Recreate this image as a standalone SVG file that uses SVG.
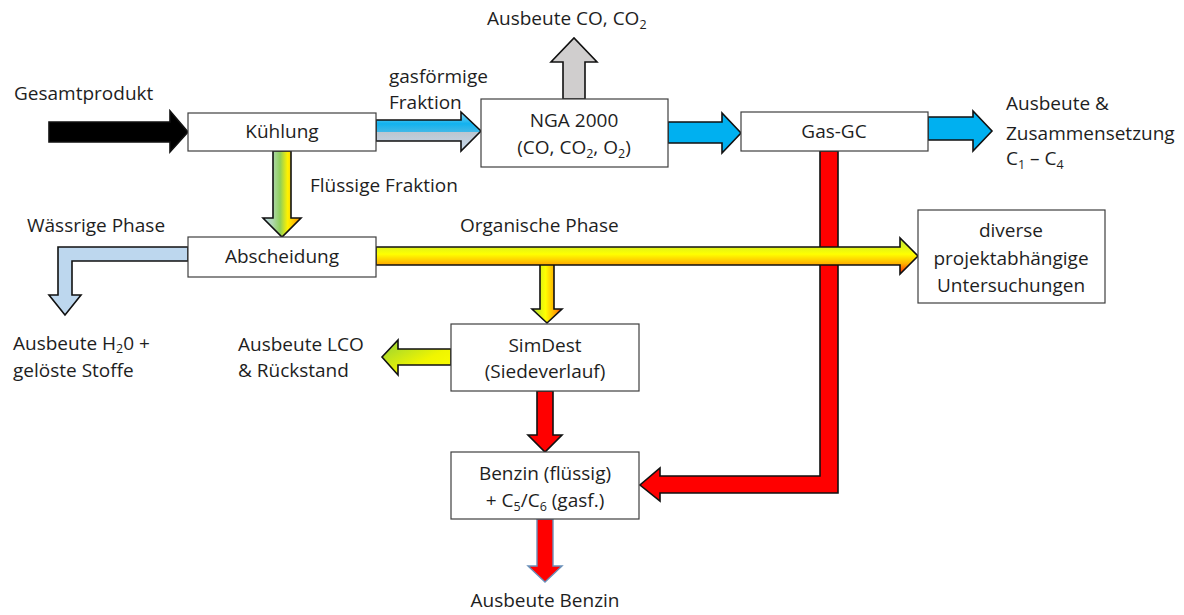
<svg xmlns="http://www.w3.org/2000/svg" width="1184" height="615" viewBox="0 0 1184 615">
  <defs>
    <style>
      text { font-family: "Open Sans", "Noto Sans", "Liberation Sans", sans-serif; font-size: 19px; fill: #1e1e1e; }
      .c { text-anchor: middle; }
      .box { fill: #ffffff; stroke: #3f3f3f; stroke-width: 1.2; }
      .arr { stroke: #111111; stroke-width: 1.6; stroke-linejoin: miter; }
      .sub { font-size: 12.5px; }
    </style>
    <!-- gas fraction: blue over grey -->
    <linearGradient id="gGas" x1="0" y1="0" x2="0" y2="1">
      <stop offset="0" stop-color="#8ad6f5"/>
      <stop offset="0.3" stop-color="#12b2ef"/>
      <stop offset="0.5" stop-color="#3fb8e8"/>
      <stop offset="0.52" stop-color="#bcc6d0"/>
      <stop offset="1" stop-color="#c6d9ec"/>
    </linearGradient>
    <!-- liquid fraction: blue / green / yellow / orange across -->
    <linearGradient id="gLiq" x1="0" y1="0" x2="1" y2="0">
      <stop offset="0" stop-color="#bcd4ec"/>
      <stop offset="0.25" stop-color="#b0d8b0"/>
      <stop offset="0.45" stop-color="#8fcf5a"/>
      <stop offset="0.65" stop-color="#fff200"/>
      <stop offset="1" stop-color="#ff8a00"/>
    </linearGradient>
    <!-- organic phase: green-yellow top to red bottom -->
    <linearGradient id="gOrgH" x1="0" y1="0" x2="0" y2="1">
      <stop offset="0" stop-color="#b8e43a"/>
      <stop offset="0.45" stop-color="#ffff00"/>
      <stop offset="0.72" stop-color="#ffb000"/>
      <stop offset="1" stop-color="#ff1a00"/>
    </linearGradient>
    <linearGradient id="gOrgV" x1="0" y1="0" x2="1" y2="0">
      <stop offset="0" stop-color="#a8dc3a"/>
      <stop offset="0.45" stop-color="#ffff00"/>
      <stop offset="0.8" stop-color="#ffa000"/>
      <stop offset="1" stop-color="#ff2000"/>
    </linearGradient>
    <linearGradient id="gLco" x1="0" y1="0" x2="1" y2="1">
      <stop offset="0" stop-color="#8fd03a"/>
      <stop offset="0.6" stop-color="#f0f500"/>
      <stop offset="1" stop-color="#ffff00"/>
    </linearGradient>
  </defs>

  <!-- connectors -->
  <g id="connectors">
    <!-- Gas-GC to Benzin (drawn first, organic phase crosses over it) -->
    <path class="arr" fill="#ff0000" d="M820,151 L838,151 L838,493 L660,493 L660,501 L640,485 L660,468 L660,476 L820,476 Z"/>
    <!-- Gesamtprodukt into Kühlung -->
    <path class="arr" fill="#000000" d="M49,122 L170,122 L170,111 L188,132 L170,152 L170,142 L49,142 Z"/>
    <!-- gaseous fraction -->
    <path class="arr" fill="url(#gGas)" d="M376,120 L461,120 L461,112 L481,131 L461,151 L461,141 L376,141 Z"/>
    <!-- NGA 2000 up to CO/CO2 -->
    <path class="arr" fill="#d0cece" d="M563,99 L563,62 L551,62 L574,38 L597,62 L585,62 L585,99 Z"/>
    <!-- NGA 2000 to Gas-GC -->
    <path class="arr" fill="#00b0f0" d="M668,122 L722,122 L722,113 L741,133 L722,153 L722,143 L668,143 Z"/>
    <!-- Gas-GC out -->
    <path class="arr" fill="#00b0f0" d="M928,117 L973,117 L973,111 L992,131 L973,151 L973,140 L928,140 Z"/>
    <!-- liquid fraction down to Abscheidung -->
    <path class="arr" fill="url(#gLiq)" d="M273,151 L291,151 L291,218 L301,218 L282,237 L263,218 L273,218 Z"/>
    <!-- aqueous phase -->
    <path class="arr" fill="#bdd7ee" d="M188,247 L58,247 L58,295 L49,295 L65,315 L81,295 L72,295 L72,261 L188,261 Z"/>
    <!-- organic phase down to SimDest -->
    <path class="arr" fill="url(#gOrgV)" d="M540,262 L554,262 L554,309 L562,309 L547,323 L532,309 L540,309 Z"/>
    <!-- organic phase to further investigations -->
    <path class="arr" fill="url(#gOrgH)" d="M376,247 L900,247 L900,238 L918,256 L900,274 L900,265 L376,265 Z"/>
    <!-- SimDest to LCO -->
    <path class="arr" fill="url(#gLco)" d="M451,349 L398,349 L398,340 L382,357 L398,375 L398,365 L451,365 Z"/>
    <!-- SimDest to Benzin -->
    <path class="arr" fill="#ff0000" d="M537,391 L553,391 L553,435 L562,435 L545,452 L528,435 L537,435 Z"/>
    <!-- Benzin out -->
    <path fill="#ff0000" stroke="#6a8fb8" stroke-width="1.4" d="M537,519 L553,519 L553,566 L562,566 L545,582 L528,566 L537,566 Z"/>
  </g>

  <!-- free labels -->
  <g id="labels">
    <text x="14" y="100">Gesamtprodukt</text>
    <text x="389" y="83">gasförmige</text>
    <text x="389" y="109">Fraktion</text>
    <text x="310" y="192">Flüssige Fraktion</text>
    <text x="487" y="25">Ausbeute CO, CO<tspan class="sub" dy="4">2</tspan></text>
    <text x="1006" y="110">Ausbeute &amp;</text>
    <text x="1006" y="140">Zusammensetzung</text>
    <text x="1006" y="165">C<tspan class="sub" dy="4">1</tspan><tspan dy="-4"> – C</tspan><tspan class="sub" dy="4">4</tspan></text>
    <text x="27" y="232">Wässrige Phase</text>
    <text x="460" y="232">Organische Phase</text>
    <text x="13" y="350">Ausbeute H<tspan class="sub" dy="3">2</tspan><tspan dy="-3">0 +</tspan></text>
    <text x="13" y="377">gelöste Stoffe</text>
    <text x="238" y="351">Ausbeute LCO</text>
    <text x="238" y="377">&amp; Rückstand</text>
    <text class="c" x="545" y="607">Ausbeute Benzin</text>
  </g>

  <g id="kuehlung">
    <rect class="box" x="188" y="113" width="188" height="38"/>
    <text class="c" x="282" y="138">Kühlung</text>
  </g>
  <g id="nga2000">
    <rect class="box" x="481" y="99" width="187" height="68"/>
    <text class="c" x="574" y="127">NGA 2000</text>
    <text class="c" x="574" y="154">(CO, CO<tspan class="sub" dy="4">2</tspan><tspan dy="-4">, O</tspan><tspan class="sub" dy="4">2</tspan><tspan dy="-4">)</tspan></text>
  </g>
  <g id="gasgc">
    <rect class="box" x="741" y="112" width="187" height="39"/>
    <text class="c" x="834" y="138">Gas-GC</text>
  </g>
  <g id="abscheidung">
    <rect class="box" x="188" y="237" width="188" height="40"/>
    <text class="c" x="282" y="263">Abscheidung</text>
  </g>
  <g id="untersuchungen">
    <rect class="box" x="918" y="210" width="187" height="93"/>
    <text class="c" x="1011" y="237">diverse</text>
    <text class="c" x="1011" y="265">projektabhängige</text>
    <text class="c" x="1011" y="292">Untersuchungen</text>
  </g>
  <g id="simdest">
    <rect class="box" x="451" y="324" width="188" height="67"/>
    <text class="c" x="545" y="352">SimDest</text>
    <text class="c" x="545" y="378">(Siedeverlauf)</text>
  </g>
  <g id="benzin">
    <rect class="box" x="451" y="452" width="188" height="67"/>
    <text class="c" x="545" y="480">Benzin (flüssig)</text>
    <text class="c" x="545" y="507">+ C<tspan class="sub" dy="4">5</tspan><tspan dy="-4">/C</tspan><tspan class="sub" dy="4">6</tspan><tspan dy="-4"> (gasf.)</tspan></text>
  </g>
</svg>
